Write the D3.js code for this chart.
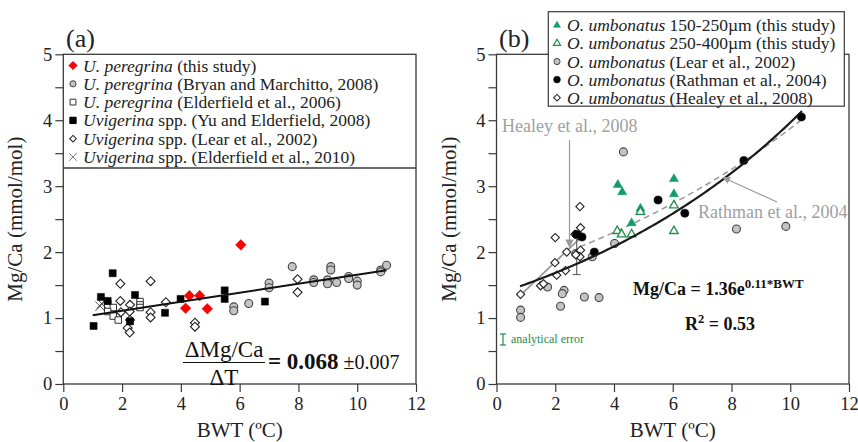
<!DOCTYPE html>
<html><head><meta charset="utf-8">
<script src="https://cdn.jsdelivr.net/npm/d3@7"></script>
<style>body{margin:0;background:#fff}svg{display:block;font-family:"Liberation Serif","Times New Roman",serif}</style>
</head><body>
<svg id="c" width="858" height="442"></svg>
<script>
// ---------- data: panel (a) ----------
const aThisStudy = [[4.29,1.34],[4.64,1.34],[4.16,1.15],[4.9,1.14],[6.04,2.11]];
const aBryan = [[5.8,1.17],[5.8,1.11],[6.31,1.22],[7.0,1.53],[7.0,1.46],[7.79,1.78],[8.52,1.58],[8.52,1.54],[9.1,1.78],[9.1,1.73],[8.99,1.58],[8.99,1.52],[9.3,1.54],[9.71,1.63],[9.71,1.60],[10.0,1.56],[10.0,1.5],[10.8,1.73],[10.8,1.70],[11.0,1.8]];
const aElder06 = [[1.51,1.22],[1.51,1.16],[1.7,1.16],[1.51,1.1],[1.7,1.03],[1.87,0.97],[2.61,1.25],[2.61,1.2],[2.61,1.16]];
const aYu = [[1.68,1.68],[1.28,1.32],[1.51,1.26],[2.44,1.35],[1.03,0.88],[3.46,1.08],[3.99,1.29],[5.49,1.42],[5.49,1.29],[6.86,1.25],[2.27,0.95]];
const aLear = [[1.94,1.52],[2.97,1.56],[1.94,1.26],[2.27,1.2],[2.26,1.1],[1.96,1.09],[2.97,1.09],[2.97,1.01],[2.19,0.85],[2.26,0.78],[3.49,1.24],[4.48,0.93],[4.48,0.87],[7.97,1.59],[7.97,1.39],[2.27,0.97]];
const aElder10 = [[1.25,1.18],[1.3,1.22]];
const aFit = {slope:0.068, intercept:0.976, xmin:1.0, xmax:11.0};
// ---------- data: panel (b) ----------
const bSmall = [[4.13,3.02],[4.28,2.91],[4.9,2.66],[4.6,2.44],[6.04,3.11],[6.04,2.88]];
const bLarge = [[4.11,2.32],[4.26,2.27],[4.6,2.27],[4.9,2.61],[6.04,2.71],[6.04,2.32]];
const bLear = [[4.32,3.52],[4.02,2.13],[3.26,1.93],[1.74,1.47],[2.3,1.42],[2.24,1.37],[2.99,1.32],[3.49,1.31],[2.18,1.18],[0.82,1.12],[0.82,1.01],[8.17,2.35],[9.85,2.39],[2.7,1.98],[2.8,2.25]];
const bRathman = [[2.91,2.23],[3.33,2.0],[5.5,2.79],[6.41,2.59],[8.42,3.39],[10.38,4.05],[2.72,2.27]];
const bHealey = [[0.82,1.36],[2.84,2.69],[2.86,2.37],[2.0,2.22],[2.67,2.27],[2.39,2.0],[1.99,1.84],[2.05,1.65],[1.5,1.49],[2.86,2.03],[2.84,1.93],[2.7,1.96],[1.6,1.52],[2.35,1.72]];
const bFit = {a:1.36, b:0.107, xmin:0.8, xmax:10.4};          // Mg/Ca = 1.36e^(0.11*BWT)
const bRathmanCurve = {a:1.626, b:0.0868, xmin:2.84, xmax:10.41};
const bHealeyLine = {slope:0.426, intercept:1.0, xmin:0.82, xmax:2.84};
const bErrorBar = {x:2.73, y:1.95, err:0.29};
const xTicks = [0,2,4,6,8,10,12];
const yTicks = d3.range(0,5.01,0.5);

const svg = d3.select("#c");
const Y = d3.scaleLinear([0,5],[384,54.3]);
const XA = d3.scaleLinear([0,12],[63.3,416]);
const XB = d3.scaleLinear([0,12],[496.5,849]);
const axisCol = "#3a3a3a";
const SERIF = "Liberation Serif";

function axes(X, ylabx){
  const ga = svg.append("g").attr("transform",`translate(${X(0)},0)`)
    .call(d3.axisLeft(Y).tickValues(yTicks).tickSize(8).tickSizeOuter(0)
      .tickFormat(d=>Number.isInteger(d)?d:""));
  ga.select(".domain").remove();
  const gb = svg.append("g").attr("transform",`translate(0,${Y(0)})`)
    .call(d3.axisBottom(X).tickValues(xTicks).tickSize(8).tickSizeOuter(0));
  gb.select(".domain").remove();
  [ga,gb].forEach(g=>{
    g.attr("font-family",SERIF);
    g.selectAll("line").attr("stroke",axisCol).attr("stroke-width",1.2);
    g.selectAll("text").attr("font-size",18.5).attr("fill","#222");
  });
  ga.selectAll("text").attr("x",-11);
  gb.selectAll("text").attr("y",13);
  svg.append("rect").attr("x",X(0)).attr("y",Y(5)).attr("width",X(12)-X(0)).attr("height",Y(0)-Y(5))
    .attr("fill","none").attr("stroke",axisCol).attr("stroke-width",1.3);
  svg.append("text").attr("x",(X(0)+X(12))/2).attr("y",437).attr("text-anchor","middle")
    .attr("font-size",21).attr("fill","#222").text("BWT (ºC)");
  svg.append("text").attr("transform",`translate(${ylabx},${(Y(0)+Y(5))/2}) rotate(-90)`)
    .attr("text-anchor","middle").attr("font-size",21).attr("fill","#222").text("Mg/Ca (mmol/mol)");
}

function sym(g, data, X, type, size, fill, stroke, sw, rot){
  g.selectAll(null).data(data).enter().append("path")
    .attr("d", d3.symbol().type(type).size(size))
    .attr("transform", d=>`translate(${X(d[0])},${Y(d[1])})` + (rot?" rotate(45)":""))
    .attr("fill",fill).attr("stroke",stroke).attr("stroke-width",sw||1);
}

// ================= Panel (a) =================
axes(XA, 22);
svg.append("text").attr("x",66).attr("y",47).attr("font-size",26).attr("fill","#222").text("(a)");
const pa = svg.append("g");
sym(pa, aElder06, XA, d3.symbolSquare, 42, "#fff", "#333", 1);
sym(pa, aLear, XA, d3.symbolSquare, 40, "#fff", "#222", 1.1, true);
sym(pa, aYu, XA, d3.symbolSquare, 50, "#000", "#000", 0.5);
sym(pa, aElder10, XA, d3.symbolX, 60, "#222", "#222", 0.8);
sym(pa, aBryan, XA, d3.symbolCircle, 50, "#c4c4c4", "#444", 1.1);
sym(pa, aThisStudy, XA, d3.symbolSquare, 56, "#f00", "#e00", 0.5, true);
pa.append("line").attr("x1",XA(aFit.xmin)).attr("y1",Y(aFit.intercept+aFit.slope*aFit.xmin))
  .attr("x2",XA(aFit.xmax)).attr("y2",Y(aFit.intercept+aFit.slope*aFit.xmax))
  .attr("stroke","#111").attr("stroke-width",2);

// legend (a)
svg.append("line").attr("x1",XA(0)).attr("x2",XA(12)).attr("y1",168).attr("y2",168)
  .attr("stroke",axisCol).attr("stroke-width",1.3);
const legA = [
  {t:d3.symbolSquare,s:30,f:"#f00",st:"#e00",r:true,it:"U. peregrina",rest:" (this study)"},
  {t:d3.symbolCircle,s:30,f:"#c4c4c4",st:"#444",it:"U. peregrina",rest:" (Bryan and Marchitto, 2008)"},
  {t:d3.symbolSquare,s:34,f:"#fff",st:"#333",it:"U. peregrina",rest:" (Elderfield et al., 2006)"},
  {t:d3.symbolSquare,s:40,f:"#000",st:"#000",it:"Uvigerina",rest:" spp. (Yu and Elderfield, 2008)"},
  {t:d3.symbolSquare,s:22,f:"#fff",st:"#222",r:true,it:"Uvigerina",rest:" spp. (Lear et al., 2002)"},
  {t:d3.symbolX,s:40,f:"#222",st:"#222",it:"Uvigerina",rest:" spp. (Elderfield et al., 2010)"}
];
legA.forEach((d,i)=>{
  const yy = 65.5 + i*18.3;
  svg.append("path").attr("d",d3.symbol().type(d.t).size(d.s)).attr("transform",`translate(73,${yy})`+(d.r?" rotate(45)":""))
    .attr("fill",d.f).attr("stroke",d.st).attr("stroke-width",d.t===d3.symbolX?0.6:1);
  const tx = svg.append("text").attr("x",83).attr("y",yy+6).attr("font-size",17.5).attr("fill","#222");
  tx.append("tspan").attr("font-style","italic").text(d.it);
  tx.append("tspan").text(d.rest);
});

// equation (a)
const eqA = svg.append("g").attr("fill","#111");
eqA.append("text").attr("x",224).attr("y",357).attr("text-anchor","middle").attr("font-size",23).text("ΔMg/Ca");
eqA.append("line").attr("x1",183).attr("x2",265).attr("y1",362.5).attr("y2",362.5).attr("stroke","#111").attr("stroke-width",1.2);
eqA.append("text").attr("x",224).attr("y",385).attr("text-anchor","middle").attr("font-size",23).text("ΔT");
const eqA2 = eqA.append("text").attr("x",268).attr("y",369).attr("font-size",23);
eqA2.append("tspan").attr("font-weight","bold").text("= 0.068");
eqA2.append("tspan").attr("font-size",20).text(" ±0.007");

// ================= Panel (b) =================
axes(XB, 456);
svg.append("text").attr("x",499).attr("y",47).attr("font-size",26).attr("fill","#222").text("(b)");
const pb = svg.append("g");
const green = "#109c6c", greenO = "#1e8f4a";
// Healey line
pb.append("line").attr("x1",XB(bHealeyLine.xmin)).attr("y1",Y(bHealeyLine.intercept+bHealeyLine.slope*bHealeyLine.xmin))
  .attr("x2",XB(bHealeyLine.xmax)).attr("y2",Y(bHealeyLine.intercept+bHealeyLine.slope*bHealeyLine.xmax))
  .attr("stroke","#999").attr("stroke-width",1.8);
// Rathman dashed
const line = d3.line().x(d=>XB(d[0])).y(d=>Y(d[1]));
const rc = d3.range(bRathmanCurve.xmin, bRathmanCurve.xmax+0.001, 0.1).map(x=>[x,bRathmanCurve.a*Math.exp(bRathmanCurve.b*x)]);
pb.append("path").attr("d",line(rc)).attr("fill","none").attr("stroke","#999").attr("stroke-width",1.5).attr("stroke-dasharray","6,4");
// error bar
const eb = pb.append("g").attr("stroke","#666").attr("stroke-width",1.2);
eb.append("line").attr("x1",XB(bErrorBar.x)).attr("x2",XB(bErrorBar.x)).attr("y1",Y(bErrorBar.y-bErrorBar.err)).attr("y2",Y(bErrorBar.y+bErrorBar.err));
[-1,1].forEach(s=>eb.append("line").attr("x1",XB(bErrorBar.x)-4).attr("x2",XB(bErrorBar.x)+4)
  .attr("y1",Y(bErrorBar.y+s*bErrorBar.err)).attr("y2",Y(bErrorBar.y+s*bErrorBar.err)));
sym(pb, bLear, XB, d3.symbolCircle, 50, "#c4c4c4", "#444", 1.1);
sym(pb, bHealey, XB, d3.symbolSquare, 34, "#fff", "#222", 1.1, true);
sym(pb, bRathman, XB, d3.symbolCircle, 52, "#000", "#000", 0.5);
sym(pb, bSmall, XB, d3.symbolTriangle, 36, green, green, 0.5);
sym(pb, bLarge, XB, d3.symbolTriangle, 32, "#fff", greenO, 1.3);
// main fit
const fc = d3.range(bFit.xmin, bFit.xmax+0.001, 0.1).map(x=>[x,bFit.a*Math.exp(bFit.b*x)]);
pb.append("path").attr("d",line(fc)).attr("fill","none").attr("stroke","#1a1a1a").attr("stroke-width",2.2);

// annotations
svg.append("defs").append("marker").attr("id","ah").attr("viewBox","0 0 10 10").attr("refX",9).attr("refY",5)
  .attr("markerWidth",7).attr("markerHeight",7).attr("orient","auto-start-reverse")
  .append("path").attr("d","M0,0 L10,5 L0,10 z").attr("fill","#999");
svg.append("text").attr("x",502).attr("y",132).attr("font-size",18).attr("fill","#a0a0a0").text("Healey et al., 2008");
svg.append("line").attr("x1",569.5).attr("y1",140).attr("x2",569.5).attr("y2",247).attr("stroke","#999").attr("stroke-width",1.2).attr("marker-end","url(#ah)");
svg.append("text").attr("x",698).attr("y",218).attr("font-size",18).attr("fill","#a0a0a0").text("Rathman et al., 2004");
svg.append("line").attr("x1",777).attr("y1",202).attr("x2",723).attr("y2",177.5).attr("stroke","#999").attr("stroke-width",1.1).attr("marker-end","url(#ah)");
const eqB = svg.append("text").attr("x",633).attr("y",295).attr("font-size",18).attr("font-weight","bold").attr("fill","#111");
eqB.append("tspan").text("Mg/Ca = 1.36e");
eqB.append("tspan").attr("font-size",13).attr("dy",-7).text("0.11*BWT");
const r2 = svg.append("text").attr("x",685).attr("y",330).attr("font-size",18).attr("font-weight","bold").attr("fill","#111");
r2.append("tspan").text("R");
r2.append("tspan").attr("font-size",12.5).attr("dy",-7).text("2");
r2.append("tspan").attr("dy",7).text(" = 0.53");
// analytical error
const ae = svg.append("g").attr("stroke",greenO).attr("stroke-width",1.2);
ae.append("line").attr("x1",503).attr("x2",503).attr("y1",334).attr("y2",345);
ae.append("line").attr("x1",500).attr("x2",506).attr("y1",334).attr("y2",334);
ae.append("line").attr("x1",500).attr("x2",506).attr("y1",345).attr("y2",345);
svg.append("text").attr("x",511).attr("y",343).attr("font-size",12).attr("fill",greenO).text("analytical error");

// legend (b)
svg.append("rect").attr("x",548.3).attr("y",11.7).attr("width",296).attr("height",94.5)
  .attr("fill","#fff").attr("stroke",axisCol).attr("stroke-width",1.2);
const legB = [
  {t:d3.symbolTriangle,s:22,f:green,st:green,sw:0.5,rest:" 150-250µm (this study)"},
  {t:d3.symbolTriangle,s:22,f:"#fff",st:greenO,sw:1.2,rest:" 250-400µm (this study)"},
  {t:d3.symbolCircle,s:30,f:"#c4c4c4",st:"#444",sw:1,rest:" (Lear et al., 2002)"},
  {t:d3.symbolCircle,s:36,f:"#000",st:"#000",sw:0.5,rest:" (Rathman et al., 2004)"},
  {t:d3.symbolSquare,s:22,f:"#fff",st:"#222",sw:1,r:true,rest:" (Healey et al., 2008)"}
];
legB.forEach((d,i)=>{
  const yy = 25.3 + i*18.1;
  svg.append("path").attr("d",d3.symbol().type(d.t).size(d.s)).attr("transform",`translate(557,${yy})`+(d.r?" rotate(45)":""))
    .attr("fill",d.f).attr("stroke",d.st).attr("stroke-width",d.sw);
  const tx = svg.append("text").attr("x",567).attr("y",yy+6).attr("font-size",17.5).attr("fill","#222");
  tx.append("tspan").attr("font-style","italic").text("O. umbonatus");
  tx.append("tspan").text(d.rest);
});
</script>
</body></html>
